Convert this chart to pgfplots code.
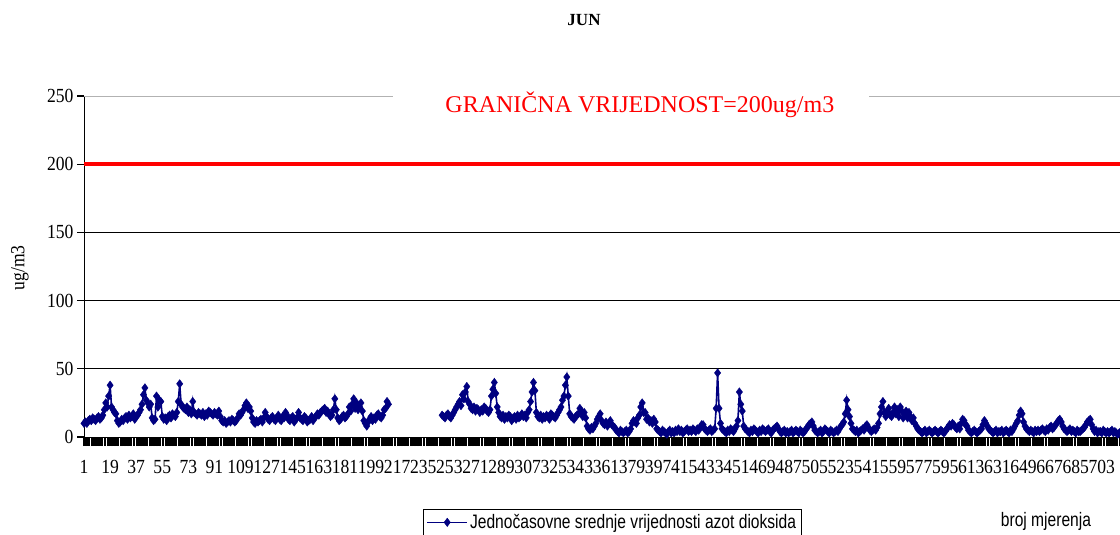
\documentclass[border=0pt]{standalone}
\usepackage{pgfplots}
\pgfplotsset{compat=1.18}
\usepackage{pgfplotstable}
\usepackage{fontspec}
\setmainfont{Liberation Serif}
\newfontfamily\tickfont[FakeStretch=0.88]{Liberation Serif}
\newfontfamily\narrowsans[FakeStretch=0.8]{Liberation Sans}
\definecolor{navyblue}{RGB}{0,0,128}

\pgfplotstableread[row sep=\\, header=false]{
10\\ 11\\ 10\\ 12\\ 13\\ 12\\ 14\\ 13\\ 12\\ 14\\
15\\ 13\\ 14\\ 16\\ 20\\ 25\\ 22\\ 30\\ 38\\ 22\\
20\\ 18\\ 17\\ 12\\ 10\\ 11\\ 13\\ 12\\ 14\\ 15\\
13\\ 16\\ 14\\ 15\\ 17\\ 13\\ 15\\ 16\\ 18\\ 20\\
24\\ 31\\ 36\\ 27\\ 25\\ 22\\ 24\\ 14\\ 12\\ 13\\
30\\ 22\\ 27\\ 26\\ 15\\ 13\\ 14\\ 12\\ 15\\ 16\\
14\\ 17\\ 16\\ 15\\ 18\\ 26\\ 39\\ 24\\ 22\\ 21\\
20\\ 22\\ 18\\ 20\\ 17\\ 26\\ 18\\ 17\\ 16\\ 18\\
17\\ 16\\ 18\\ 15\\ 17\\ 16\\ 19\\ 18\\ 17\\ 16\\
18\\ 17\\ 16\\ 19\\ 15\\ 12\\ 11\\ 12\\ 10\\ 11\\
12\\ 11\\ 13\\ 12\\ 11\\ 12\\ 14\\ 17\\ 16\\ 18\\
20\\ 23\\ 25\\ 21\\ 22\\ 19\\ 14\\ 11\\ 10\\ 12\\
11\\ 12\\ 13\\ 11\\ 14\\ 18\\ 15\\ 13\\ 12\\ 14\\
15\\ 13\\ 12\\ 14\\ 16\\ 13\\ 12\\ 15\\ 14\\ 18\\
16\\ 13\\ 12\\ 14\\ 15\\ 11\\ 13\\ 14\\ 18\\ 14\\
13\\ 12\\ 15\\ 14\\ 11\\ 12\\ 13\\ 15\\ 12\\ 14\\
15\\ 17\\ 16\\ 18\\ 19\\ 20\\ 21\\ 18\\ 19\\ 17\\
15\\ 16\\ 20\\ 28\\ 20\\ 14\\ 12\\ 13\\ 15\\ 16\\
14\\ 15\\ 17\\ 22\\ 19\\ 24\\ 28\\ 21\\ 25\\ 20\\
22\\ 25\\ 19\\ 12\\ 10\\ 8\\ 11\\ 13\\ 15\\ 12\\
14\\ 13\\ 16\\ 17\\ 15\\ 14\\ 16\\ 20\\ 21\\ 26\\
24\\ nan\\ nan\\ nan\\ nan\\ nan\\ nan\\ nan\\ nan\\ nan\\
nan\\ nan\\ nan\\ nan\\ nan\\ nan\\ nan\\ nan\\ nan\\ nan\\
nan\\ nan\\ nan\\ nan\\ nan\\ nan\\ nan\\ nan\\ nan\\ nan\\
nan\\ nan\\ nan\\ nan\\ nan\\ nan\\ nan\\ 16\\ 15\\ 14\\
16\\ 17\\ 15\\ 14\\ 16\\ 18\\ 20\\
22\\ 24\\ 26\\ 23\\ 31\\ 28\\ 33\\ 37\\ 26\\ 24\\
21\\ 20\\ 22\\ 19\\ 21\\ 20\\ 18\\ 20\\ 19\\ 22\\
21\\ 19\\ 18\\ 20\\ 30\\ 35\\ 40\\ 32\\ 22\\ 18\\
15\\ 14\\ 16\\ 13\\ 15\\ 14\\ 16\\ 15\\ 12\\ 14\\
15\\ 13\\ 16\\ 14\\ 15\\ 17\\ 15\\ 16\\ 14\\ 18\\
20\\ 26\\ 33\\ 40\\ 34\\ 18\\ 15\\ 14\\ 16\\ 13\\
15\\ 14\\ 16\\ 15\\ 13\\ 17\\ 16\\ 15\\ 14\\ 16\\
18\\ 20\\ 22\\ 27\\ 30\\ 38\\ 44\\ 30\\ 17\\ 15\\
14\\ 13\\ 15\\ 16\\ 17\\ 21\\ 19\\ 15\\ 18\\ 14\\
8\\ 6\\ 5\\ 7\\ 6\\ 8\\ 10\\ 13\\ 15\\ 17\\
12\\ 10\\ 9\\ 11\\ 8\\ 10\\ 12\\ 9\\ 8\\ 7\\
5\\ 4\\ 3\\ 5\\ 4\\ 3\\ 4\\ 5\\ 3\\ 4\\
6\\ 10\\ 12\\ 11\\ 10\\ 14\\ 16\\ 22\\ 25\\ 18\\
18\\ 13\\ 14\\ 11\\ 12\\ 10\\ 13\\ 11\\ 6\\ 5\\
4\\ 3\\ 5\\ 4\\ 3\\ 2\\ 4\\ 5\\ 3\\ 4\\
3\\ 5\\ 4\\ 6\\ 4\\ 5\\ 3\\ 4\\ 5\\ 6\\
4\\ 5\\ 4\\ 6\\ 5\\ 4\\ 6\\ 5\\ 7\\ 9\\
9\\ 6\\ 5\\ 4\\ 5\\ 6\\ 4\\ 5\\ 6\\ 21\\
47\\ 21\\ 10\\ 6\\ 5\\ 4\\ 3\\ 5\\ 4\\ 6\\
5\\ 4\\ 6\\ 8\\ 12\\ 33\\ 24\\ 19\\ 8\\ 6\\
5\\ 4\\ 3\\ 5\\ 4\\ 6\\ 5\\ 4\\ 3\\ 5\\
4\\ 6\\ 5\\ 4\\ 5\\ 6\\ 4\\ 3\\ 5\\ 6\\
7\\ 8\\ 6\\ 4\\ 3\\ 4\\ 5\\ 3\\ 4\\ 3\\
4\\ 5\\ 3\\ 4\\ 5\\ 4\\ 3\\ 5\\ 4\\ 3\\
4\\ 6\\ 7\\ 9\\ 10\\ 11\\ 8\\ 5\\ 4\\ 3\\
4\\ 5\\ 3\\ 4\\ 6\\ 5\\ 4\\ 3\\ 5\\ 4\\
3\\ 4\\ 5\\ 4\\ 6\\ 8\\ 9\\ 11\\ 17\\ 27\\
20\\ 15\\ 10\\ 6\\ 5\\ 4\\ 5\\ 3\\ 4\\ 5\\
6\\ 5\\ 8\\ 9\\ 7\\ 5\\ 4\\ 5\\ 6\\ 5\\
7\\ 10\\ 17\\ 22\\ 26\\ 18\\ 15\\ 19\\ 21\\ 16\\
15\\ 18\\ 22\\ 17\\ 20\\ 15\\ 22\\ 19\\ 14\\ 17\\
19\\ 14\\ 18\\ 15\\ 12\\ 14\\ 10\\ 8\\ 6\\ 5\\
4\\ 3\\ 4\\ 5\\ 3\\ 4\\ 5\\ 4\\ 3\\ 4\\
5\\ 4\\ 3\\ 4\\ 5\\ 4\\ 3\\ 4\\ 6\\ 7\\
9\\ 8\\ 10\\ 9\\ 7\\ 6\\ 8\\ 6\\ 10\\ 13\\
12\\ 9\\ 8\\ 5\\ 4\\ 3\\ 4\\ 5\\ 4\\ 3\\
4\\ 5\\ 6\\ 9\\ 12\\ 10\\ 8\\ 6\\ 5\\ 4\\
3\\ 4\\ 5\\ 3\\ 4\\ 4\\ 5\\ 3\\ 4\\ 5\\
4\\ 3\\ 5\\ 4\\ 6\\ 8\\ 10\\ 12\\ 16\\ 19\\
17\\ 11\\ 8\\ 6\\ 5\\ 4\\ 5\\ 4\\ 3\\ 5\\
4\\ 5\\ 4\\ 5\\ 6\\ 5\\ 4\\ 6\\ 5\\ 7\\
8\\ 6\\ 7\\ 9\\ 10\\ 12\\ 13\\ 11\\ 8\\ 6\\
5\\ 4\\ 5\\ 6\\ 4\\ 5\\ 4\\ 3\\ 5\\ 4\\
4\\ 5\\ 6\\ 7\\ 9\\ 11\\ 12\\ 13\\ 9\\ 6\\
4\\ 5\\ 3\\ 4\\ 4\\ 3\\ 5\\ 4\\ 3\\ 4\\
3\\ 4\\ 5\\ 3\\ 4\\ 3\\ 2\\ 3\\ 4\\ 3\\ 4\\ 3\\ 2\\
}\nodata

\begin{document}
\begin{tikzpicture}[x=1pt,y=1pt]
\begin{axis}[
  at={(84pt,-437pt)}, anchor=south west,
  scale only axis, width=1036pt, height=341pt,
  xmin=1, xmax=715.5, ymin=0, ymax=250,
  clip=false,
  axis x line*=bottom, axis y line*=left,
  axis line style={-, line width=1pt, black},
  xtick={1,19,...,703}, minor xtick={1,...,715},
  ytick={0,50,100,150,200},
  extra y ticks={250},
  extra y tick style={grid style={gray!60, line width=1pt}},
  ymajorgrids,
  grid style={black, line width=0.8pt},
  tick align=outside, major tick length=7pt, minor tick length=9pt,
  tick style={black, line width=1.3pt},
  /pgf/number format/assume math mode=true,
  tick label style={font=\tickfont\fontsize{20}{20}\selectfont},
  xticklabel style={yshift=-13pt},
  unbounded coords=jump,
  legend style={at={(axis description cs:0.3272,-0.2111)}, anchor=north west,
    draw=black, line width=1pt, font=\narrowsans\fontsize{19.5}{19.5}\selectfont,
    inner xsep=3pt, inner ysep=3pt},
  legend cell align=left,
  legend image code/.code={\draw[mark repeat=2,mark phase=2,#1] plot coordinates {(0pt,0pt) (20pt,0pt) (40pt,0pt)};},
]
\addplot[navyblue, line width=1.6pt, mark=diamond*, mark size=4.2pt,
  mark options={fill=navyblue, draw=navyblue, line width=0.4pt}]
  table[x expr=\coordindex+1, y index=0] {\nodata};
\addlegendentry{Jednočasovne srednje vrijednosti azot dioksida}
\addplot[red, line width=4pt, forget plot] coordinates {(1,200) (715.5,200)};
\node[fill=white, minimum width=476pt, minimum height=26pt, inner sep=0pt] at (axis cs:378,250) {};
\node[text=red, font=\fontsize{24}{24}\selectfont, inner sep=0pt] at (axis cs:384.4,243.4) {GRANIČNA VRIJEDNOST=200ug/m3};
\end{axis}
\node[font=\bfseries\fontsize{17}{17}\selectfont] at (584,-20) {JUN};
\node[rotate=90, font=\tickfont\fontsize{20}{20}\selectfont] at (20,-268) {ug/m3};
\node[font=\narrowsans\fontsize{19.5}{19.5}\selectfont] at (1046,-521) {broj mjerenja};
\pgfresetboundingbox
\useasboundingbox (0,0) rectangle (1120,-535);
\end{tikzpicture}
\end{document}
